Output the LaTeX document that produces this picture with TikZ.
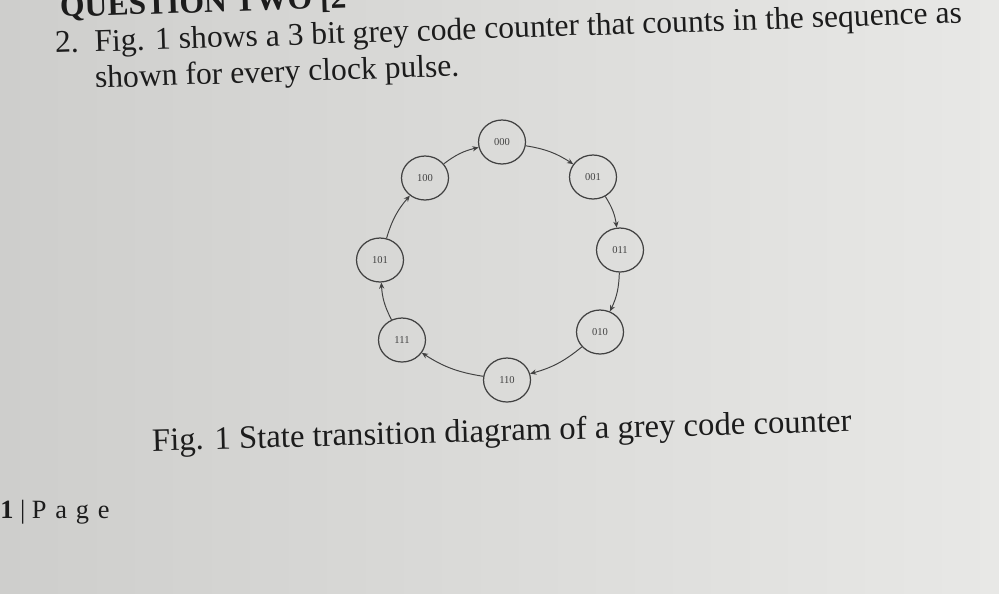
\documentclass[tikz,border=0pt]{standalone}
\usepackage{fontspec}
\setmainfont{Liberation Serif}
\usetikzlibrary{arrows.meta}

\definecolor{paper}{RGB}{206,206,204}
\definecolor{paperlight}{RGB}{232,232,230}
\definecolor{ink}{RGB}{28,28,28}
\definecolor{pencil}{RGB}{65,65,65}

\tikzset{
  state/.style={ellipse, draw=pencil, line width=0.7pt, minimum width=0.94cm,
    minimum height=0.88cm, inner sep=0pt, text=pencil, font=\fontsize{6}{6}\selectfont},
  trans/.style={-{Stealth[length=3.5pt, width=3pt]}, draw=pencil, line width=0.55pt, bend left=12},
  pagetext/.style={text=ink, anchor=base west, inner sep=0pt, rotate=1.9,
    font=\fontsize{18}{21}\selectfont},
}
\usetikzlibrary{shapes.geometric}

\begin{document}
\begin{tikzpicture}[x=0.02cm, y=-0.02cm]
      % Folha
      \useasboundingbox (0, 0) rectangle (999, 593);
      \clip (0, 0) rectangle (999, 593);
      \shade[left color=paper, right color=paperlight] (0, 0) rectangle (999, 593);

      % Enunciado
      \node[pagetext, font=\bfseries\fontsize{18}{21}\selectfont] (head) at (60, 17) {QUESTION TWO [2};
      \node[pagetext] (line1) at (55, 53) {2.\ \ Fig. 1 shows a 3 bit grey code counter that counts in the sequence as};
      \node[pagetext] (line2) at (95, 88) {shown for every clock pulse.};

      % Estados
      \node[state] (s000) at (502, 142) {000};
      \node[state] (s001) at (593, 177) {001};
      \node[state] (s011) at (620, 250) {011};
      \node[state] (s010) at (600, 332) {010};
      \node[state] (s110) at (507, 380) {110};
      \node[state] (s111) at (402, 340) {111};
      \node[state] (s101) at (380, 260) {101};
      \node[state] (s100) at (425, 178) {100};

      % Transicoes
      \draw[trans] (s000) to (s001);
      \draw[trans] (s001) to (s011);
      \draw[trans] (s011) to (s010);
      \draw[trans] (s010) to (s110);
      \draw[trans] (s110) to (s111);
      \draw[trans] (s111) to (s101);
      \draw[trans] (s101) to (s100);
      \draw[trans] (s100) to (s000);

      % Legenda
      \node[pagetext, rotate=-0.3, font=\fontsize{18.6}{21}\selectfont] (caption) at (152, 451)
        {Fig. 1 State transition diagram of a grey code counter};

      % Rodape
      \node[pagetext, rotate=-1.9, font=\fontsize{15}{17}\selectfont] (foot) at (0, 518)
        {\textbf{1} | P\,\,a\,\,g\,\,e};
    \end{tikzpicture}
\end{document}
